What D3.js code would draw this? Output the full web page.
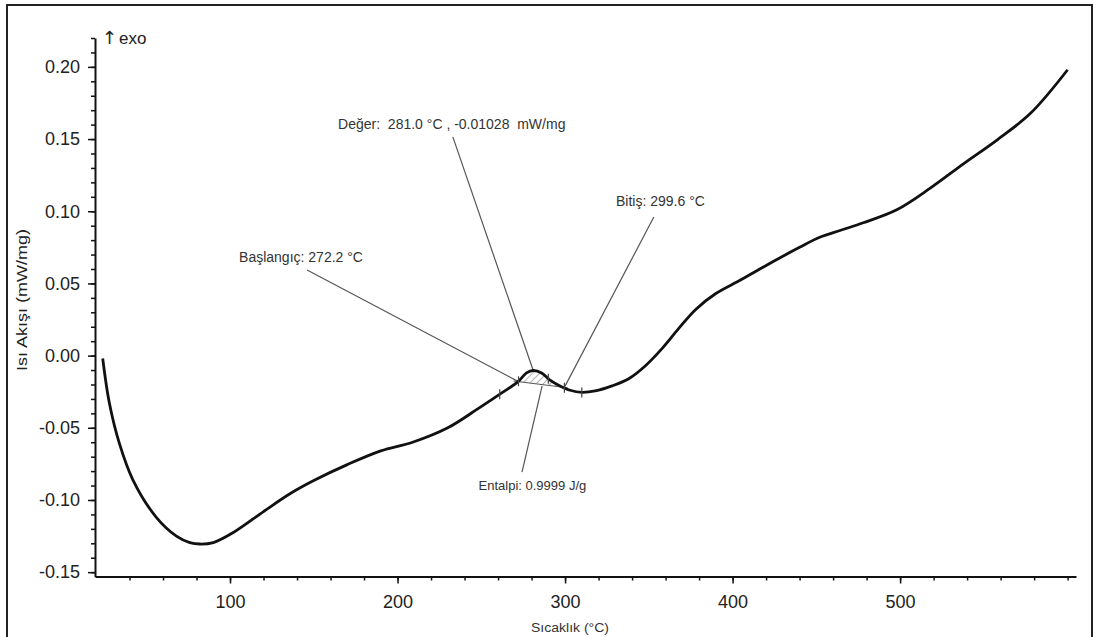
<!DOCTYPE html>
<html>
<head>
<meta charset="utf-8">
<script src="https://cdn.jsdelivr.net/npm/d3@7"></script>
<style>
  body { margin: 0; background: #fff; }
  svg { display: block; font-family: "Liberation Sans", Arial, sans-serif; }
  text { white-space: pre; }
</style>
</head>
<body>
<div id="chart"></div>
<script>
// DSC curve
const temps = [24, 28, 34, 42, 56, 68, 76, 82, 90, 102, 120, 136, 150, 170, 190, 209, 230, 249, 262, 272, 277,
  281, 286, 291, 297, 303, 310, 318, 328, 338, 348, 358, 368, 378, 390, 405, 424, 440, 452, 465, 478, 498,
  518, 538, 558, 578, 600];
const heatFlow = [-0.002, -0.033, -0.061, -0.086, -0.112, -0.125, -0.1295, -0.1305, -0.1295, -0.1225, -0.108, -0.0955,
  -0.0865, -0.0755, -0.066, -0.060, -0.050, -0.036, -0.026, -0.018, -0.012,
  -0.0103, -0.012, -0.017, -0.021, -0.024, -0.0255, -0.0245, -0.021, -0.016, -0.007, 0.005, 0.019, 0.032, 0.043,
  0.0525, 0.065, 0.075, 0.082, 0.087, 0.092, 0.101, 0.116, 0.133, 0.1495, 0.168, 0.198];

const yTicks = [-0.15, -0.10, -0.05, 0.00, 0.05, 0.10, 0.15, 0.20];
const xTicks = [100, 200, 300, 400, 500];

// peak evaluation
const onsetT = 272.2, endT = 299.6, peakT = 281.0, peakV = -0.01028;
const onsetV = -0.018, endV = -0.022;
const markerTemps = [261, 272.2, 290, 299.6, 310];

const labels = ["Değer:  281.0 °C , -0.01028  mW/mg", "Bitiş: 299.6 °C", "Başlangıç: 272.2 °C", "Entalpi: 0.9999 J/g"];
const labelPos = [[164.5, 0.157], [330.4, 0.1037], [105.4, 0.065], [280.5, -0.093]];
const labelAnchor = ["start", "start", "start", "middle"];
const leaderFrom = [[233, 0.1515], [353, 0.096], [146, 0.0593], [274.3, -0.0807]];
const leaderTo = [[peakT, peakV], [endT, endV], [onsetT, onsetV], [286.3, -0.021]];

const W = 1093, H = 637;
const margin = { top: 38, right: 17, bottom: 60.5, left: 95 };

const svg = d3.select("#chart").append("svg").attr("width", W).attr("height", H);

// outer frame
svg.append("rect").attr("x", 7).attr("y", 5).attr("width", 1085).attr("height", 660)
  .attr("fill", "none").attr("stroke", "#222").attr("stroke-width", 2);

const x = d3.scaleLinear().domain([19.4, 605]).range([margin.left, W - margin.right]);
const y = d3.scaleLinear().domain([-0.153, 0.22]).range([H - margin.bottom, margin.top]);

const data = temps.map((t, i) => ({ t: t, v: heatFlow[i] }));
const interp = (t) => {
  let i = d3.bisectRight(temps, t);
  i = Math.max(1, Math.min(temps.length - 1, i));
  const a = temps[i - 1], b = temps[i];
  return heatFlow[i - 1] + (heatFlow[i] - heatFlow[i - 1]) * (t - a) / (b - a);
};

// axes: minor first, then major
const yMinor = d3.range(-15, 23).map((d) => d / 100);
const xMinor = d3.range(40, 601, 20);

svg.append("g").attr("transform", "translate(" + margin.left + ",0)")
  .call(d3.axisLeft(y).tickValues(yMinor).tickSize(4).tickSizeOuter(0).tickFormat(""))
  .call((g) => g.select(".domain").remove());
svg.append("g").attr("transform", "translate(0," + y.range()[0] + ")")
  .call(d3.axisBottom(x).tickValues(xMinor).tickSize(4).tickSizeOuter(0).tickFormat(""))
  .call((g) => g.select(".domain").remove());

const fmt = (d) => d3.format(".2f")(d).replace("−", "-");
svg.append("g").attr("class", "y-axis")
  .attr("transform", "translate(" + margin.left + ",0)")
  .call(d3.axisLeft(y).tickValues(yTicks).tickSize(7).tickSizeOuter(0).tickPadding(8).tickFormat(fmt));
svg.append("g").attr("class", "x-axis")
  .attr("transform", "translate(0," + y.range()[0] + ")")
  .call(d3.axisBottom(x).tickValues(xTicks).tickSize(7).tickSizeOuter(0).tickPadding(12).tickFormat(d3.format("d")));

svg.selectAll(".tick line").attr("stroke", "#111").attr("stroke-width", 1.5);
svg.selectAll(".domain").attr("stroke", "#111").attr("stroke-width", 2);
svg.selectAll(".tick text").attr("font-size", 18).attr("fill", "#222")
  .attr("font-family", "'Liberation Sans', Arial, sans-serif");

// axis titles
svg.append("text").attr("transform", "translate(27,300) rotate(-90)")
  .attr("text-anchor", "middle").attr("font-size", 15).attr("fill", "#222")
  .attr("textLength", 142).attr("lengthAdjust", "spacingAndGlyphs")
  .text("Isı Akışı (mW/mg)");
svg.append("text").attr("x", 570).attr("y", 632).attr("text-anchor", "middle")
  .attr("font-size", 13).attr("fill", "#333")
  .attr("textLength", 78).attr("lengthAdjust", "spacingAndGlyphs").text("Sıcaklık (°C)");
svg.append("text").attr("x", 102).attr("y", 44).attr("font-size", 18).attr("fill", "#222")
  .attr("font-family", "'DejaVu Sans', sans-serif").text("↑");
svg.append("text").attr("x", 119).attr("y", 44).attr("font-size", 17).attr("fill", "#222").text("exo");

// hatched peak area
const defs = svg.append("defs");
defs.append("pattern").attr("id", "hatch").attr("patternUnits", "userSpaceOnUse")
  .attr("width", 5).attr("height", 5).attr("patternTransform", "rotate(45)")
  .append("line").attr("x1", 0).attr("y1", 0).attr("x2", 0).attr("y2", 5)
  .attr("stroke", "#666").attr("stroke-width", 1);

const peakPts = [{ t: onsetT, v: interp(onsetT) }]
  .concat(data.filter((d) => d.t > onsetT && d.t < endT))
  .concat([{ t: endT, v: interp(endT) }]);
const baseAt = (t) => onsetV + (endV - onsetV) * (t - onsetT) / (endT - onsetT);

svg.append("path").datum(peakPts)
  .attr("d", d3.area().x((d) => x(d.t)).y0((d) => y(baseAt(d.t))).y1((d) => y(d.v)).curve(d3.curveMonotoneX))
  .attr("fill", "url(#hatch)");
svg.append("line").attr("x1", x(onsetT - 3)).attr("y1", y(onsetV + 0.0004))
  .attr("x2", x(endT + 2)).attr("y2", y(endV - 0.0003))
  .attr("stroke", "#555").attr("stroke-width", 1);

// leader lines and labels
labels.forEach((txt, i) => {
  svg.append("line")
    .attr("x1", x(leaderFrom[i][0])).attr("y1", y(leaderFrom[i][1]))
    .attr("x2", x(leaderTo[i][0])).attr("y2", y(leaderTo[i][1]))
    .attr("stroke", "#555").attr("stroke-width", 1.2);
  svg.append("text").attr("x", x(labelPos[i][0])).attr("y", y(labelPos[i][1]))
    .attr("text-anchor", labelAnchor[i])
    .attr("font-size", i === 3 ? 13 : 14).attr("fill", "#333").text(txt);
});

// the curve
svg.append("path").datum(data)
  .attr("d", d3.line().x((d) => x(d.t)).y((d) => y(d.v)).curve(d3.curveCatmullRom.alpha(0.5)))
  .attr("fill", "none").attr("stroke", "#111").attr("stroke-width", 2.8);

// integration limit markers
svg.selectAll(".marker").data(markerTemps).enter().append("line")
  .attr("class", "marker")
  .attr("x1", (d) => x(d)).attr("x2", (d) => x(d))
  .attr("y1", (d) => y(interp(d)) - 5).attr("y2", (d) => y(interp(d)) + 5)
  .attr("stroke", "#444").attr("stroke-width", 1.2);
</script>
</body>
</html>
